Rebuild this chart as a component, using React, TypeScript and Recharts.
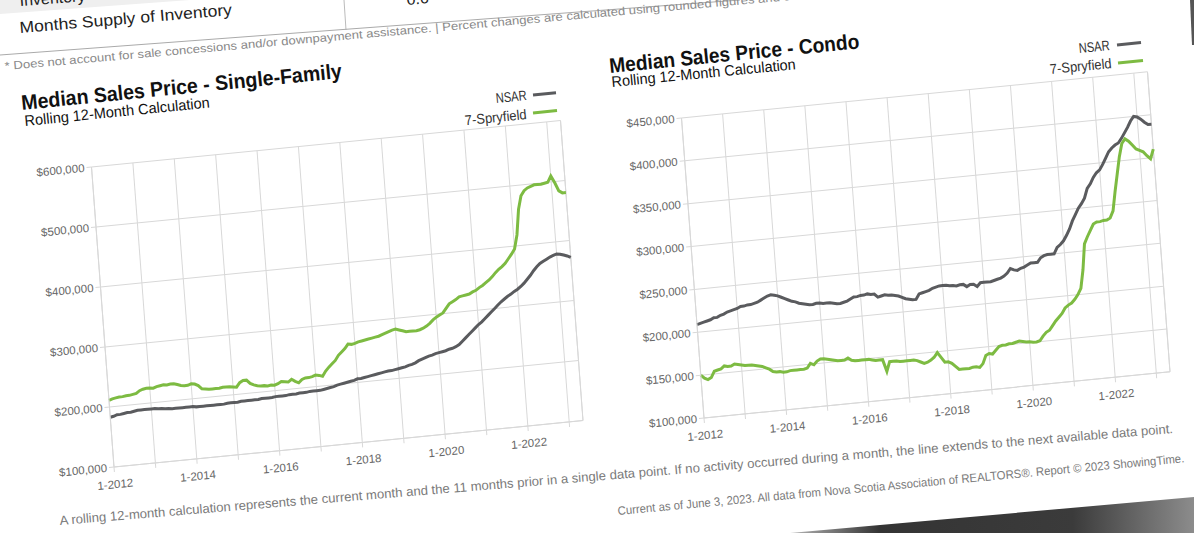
import React from 'react';
import { LineChart, Line, XAxis, YAxis, CartesianGrid, ReferenceLine } from 'recharts';

const FONT = "'Liberation Sans', Arial, Helvetica, sans-serif";

// month index 0 = 1-2012 ... 136 = 5-2023
const yearTicks = [0, 12, 24, 36, 48, 60, 72, 84, 96, 108, 120, 132];
const yearLabels: Record<number, string> = {
  0: '1-2012', 24: '1-2014', 48: '1-2016', 72: '1-2018', 96: '1-2020', 120: '1-2022',
};

const sfTicks = [100000, 200000, 300000, 400000, 500000, 600000];
const condoTicks = [100000, 150000, 200000, 250000, 300000, 350000, 400000, 450000];

// Single-Family, thousands of dollars
const sfNsar = [
  183, 184, 186, 186, 187, 188, 188, 189, 190, 190, 190, 190,
  190, 190, 189, 189, 188, 188, 187, 187, 187, 187, 187, 187,
  187, 186, 186, 186, 186, 186, 186, 186, 186, 186, 187, 187,
  187, 187, 188, 188, 188, 188, 188, 188, 189, 189, 189, 189,
  190, 190, 190, 190, 191, 191, 191, 192, 192, 192, 193, 193,
  193, 193, 194, 195, 196, 197, 199, 200, 201, 202, 203, 204,
  206, 206, 207, 208, 209, 210, 211, 212, 213, 214, 214, 215,
  216, 217, 218, 220, 221, 223, 226, 228, 230, 232, 233, 235,
  236, 237, 238, 240, 241, 243, 246, 251, 256, 261, 266, 271,
  276, 280, 285, 290, 295, 300, 305, 310, 314, 318, 321, 325,
  328, 332, 337, 343, 349, 356, 362, 367, 370, 373, 376, 378,
  380, 379, 377, 375, 372,
];
const sfSpry = [
  211, 213, 214, 215, 215, 216, 216, 217, 218, 222, 224, 225,
  225, 224, 226, 227, 228, 227, 228, 228, 226, 224, 223, 223,
  225, 224, 221, 215, 214, 213, 213, 213, 213, 214, 214, 214,
  213, 212, 219, 222, 222, 216, 213, 211, 210, 210, 209, 210,
  209, 211, 214, 213, 212, 216, 212, 209, 214, 216, 216, 217,
  219, 218, 216, 224, 230, 235, 240, 248, 253, 258, 265, 264,
  265, 267, 268, 269, 270, 271, 272, 273, 275, 277, 279, 281,
  282, 280, 278, 276, 276, 276, 276, 277, 279, 282, 286, 291,
  295, 298, 301, 308, 315, 318, 321, 325, 326, 327, 328, 331,
  333, 337, 340, 344, 348, 353, 359, 364, 368, 373, 380, 387,
  395, 418, 460, 482, 490, 494, 496, 498, 498, 498, 499, 500,
  510, 498, 484, 480, 480,
];

// Condo, thousands of dollars
const condoNsar = [
  209, 210, 211, 212, 213, 215, 215, 217, 218, 220, 221, 222,
  223, 225, 225, 226, 226, 227, 228, 230, 232, 234, 235, 234,
  233, 231, 229, 227, 225, 224, 222, 221, 220, 219, 219, 220,
  220, 219, 219, 219, 218, 217, 217, 218, 219, 221, 223, 223,
  224, 224, 225, 224, 224, 220, 221, 222, 221, 221, 220, 219,
  217, 215, 214, 213, 213, 219, 220, 221, 222, 224, 225, 226,
  226, 226, 225, 225, 224, 225, 225, 222, 224, 224, 221, 225,
  225, 225, 225, 226, 227, 228, 230, 233, 238, 236, 235, 237,
  238, 240, 242, 242, 242, 247, 249, 250, 250, 250, 257, 260,
  264, 270, 277, 286, 293, 300, 305, 311, 322, 327, 334, 339,
  342, 348, 355, 362, 366, 369, 371, 376, 382, 388, 395, 400,
  399, 396, 392, 389, 389,
];
const condoSpry = [
  150, 146, 144, 146, 153, 154, 155, 158, 157, 157, 159, 158,
  157, 156, 156, 156, 155, 154, 153, 151, 149, 146, 145, 145,
  144, 144, 145, 145, 145, 145, 145, 146, 151, 149, 153, 155,
  155, 154, 153, 152, 151, 151, 151, 153, 150, 149, 149, 149,
  149, 149, 148, 147, 147, 147, 133, 144, 144, 144, 143, 143,
  143, 143, 143, 142, 140, 138, 139, 141, 144, 149, 143, 137,
  137, 135, 131, 127, 127, 127, 127, 128, 128, 127, 131, 140,
  142, 141, 145, 149, 150, 150, 151, 151, 152, 153, 152, 151,
  151, 150, 150, 151, 156, 160, 162, 167, 172, 176, 180, 186,
  189, 191, 195, 200, 207, 228, 258, 266, 273, 280, 282, 282,
  283, 283, 285, 293, 315, 335, 355, 370, 375, 372, 367, 362,
  360, 358, 353, 349, 360,
];

const GRAY = '#5a5b5e';
const GREEN = '#7dbb42';
const GRID = '#d8d8d8';
const TILT = 'matrix(1,-0.099,0.075,1,0,0)';

function PriceChart(props: {
  nsar: number[]; spry: number[]; yTicks: number[]; left: number; top: number; plotW: number;
}) {
  const { nsar, spry, yTicks, left, top, plotW } = props;
  const data = nsar.map((v, i) => ({ m: i, nsar: v * 1000, spry: spry[i] * 1000 }));
  const tickStyle = { fontSize: 11.5, fill: '#666', fontFamily: FONT };
  const w = 70 + plotW + 10;
  return (
    <div style={{ position: 'absolute', left, top, width: w, height: 346, transform: TILT, transformOrigin: '70px 310px' }}>
      <LineChart width={w} height={346} data={data} margin={{ top: 10, right: 10, bottom: 0, left: 0 }}>
        <CartesianGrid stroke={GRID} strokeWidth={1} />
        <XAxis
          dataKey="m"
          type="number"
          domain={[0, 136]}
          ticks={yearTicks}
          interval={0}
          tickFormatter={(v: number) => yearLabels[v] ?? ''}
          height={36}
          tick={tickStyle}
          tickSize={5}
          tickMargin={8}
          tickLine={{ stroke: GRID }}
          axisLine={{ stroke: GRID }}
        />
        <YAxis
          type="number"
          domain={[yTicks[0], yTicks[yTicks.length - 1]]}
          ticks={yTicks}
          interval={0}
          tickFormatter={(v: number) => '$' + v.toLocaleString('en-US')}
          width={70}
          tick={tickStyle}
          tickSize={5}
          tickLine={{ stroke: GRID }}
          axisLine={{ stroke: GRID }}
        />
        <ReferenceLine x={136} stroke={GRID} />
        <Line type="linear" dataKey="nsar" stroke={GRAY} strokeWidth={3} dot={false} isAnimationActive={false} />
        <Line type="linear" dataKey="spry" stroke={GREEN} strokeWidth={3} dot={false} isAnimationActive={false} />
      </LineChart>
    </div>
  );
}

function Txt(props: {
  x: number; y: number; slope: number; size: number; weight?: string | number;
  color?: string; len?: number; anchor?: 'start' | 'end' | 'middle'; children: React.ReactNode;
}) {
  const { x, y, slope, size, weight = 'normal', color = '#111', len, anchor = 'start', children } = props;
  const deg = (-Math.atan(slope) * 180) / Math.PI;
  return (
    <text
      x={x}
      y={y}
      transform={`rotate(${deg} ${x} ${y})`}
      fontSize={size}
      fontWeight={weight}
      fill={color}
      fontFamily={FONT}
      textAnchor={anchor}
      {...(len ? { textLength: len, lengthAdjust: 'spacingAndGlyphs' } : {})}
    >
      {children}
    </text>
  );
}

export default function App() {
  return (
    <div style={{ position: 'absolute', left: 0, top: 0, width: 1194, height: 533, overflow: 'hidden', background: '#fff' }}>
      <PriceChart nsar={sfNsar} spry={sfSpry} yTicks={sfTicks} left={44} top={157} plotW={469} />
      <PriceChart nsar={condoNsar} spry={condoSpry} yTicks={condoTicks} left={634} top={108} plotW={466} />
      <svg width={1194} height={533} style={{ position: 'absolute', left: 0, top: 0, pointerEvents: 'none' }}>
        <defs>
          <linearGradient id="shadow" x1="0" y1="0" x2="1" y2="0">
            <stop offset="0%" stopColor="#b5b5b5" />
            <stop offset="22%" stopColor="#343434" />
            <stop offset="70%" stopColor="#3b3b3b" />
            <stop offset="100%" stopColor="#8c8c8c" />
          </linearGradient>
        </defs>
        {/* top table remnants */}
        <polygon points="0,0 190,0 0,14" fill="#efefef" />
        <Txt x={20} y={6} slope={0.075} size={16} color="#222">Inventory</Txt>
        <Txt x={20} y={33} slope={0.085} size={16} color="#222" len={213}>Months Supply of Inventory</Txt>
        <Txt x={407} y={5} slope={0.085} size={16} color="#222">0.6</Txt>
        <line x1={344} y1={0} x2={346} y2={30} stroke="#bbb" strokeWidth={1} />
        <line x1={0} y1={55} x2={740} y2={0} stroke="#aaa" strokeWidth={1} />
        <Txt x={5} y={70} slope={0.089} size={11.5} color="#8a8a8a" len={803}>
          * Does not account for sale concessions and/or downpayment assistance. | Percent changes are calculated using rounded figures and can
        </Txt>
        <Txt x={808} y={-1} slope={0.089} size={11.5} color="#8a8a8a">sometimes look extreme due to small sample size.</Txt>

        {/* left chart header */}
        <Txt x={22} y={110} slope={0.1} size={21} weight="bold" color="#111" len={322}>Median Sales Price - Single-Family</Txt>
        <Txt x={25} y={126} slope={0.1} size={15} color="#111" len={186}>Rolling 12-Month Calculation</Txt>
        <Txt x={527} y={100} slope={0.1} size={14} color="#333" len={31} anchor="end">NSAR</Txt>
        <Txt x={527} y={119} slope={0.1} size={14} color="#333" len={62} anchor="end">7-Spryfield</Txt>
        <line x1={533} y1={95} x2={556} y2={92.7} stroke={GRAY} strokeWidth={3} />
        <line x1={533} y1={113} x2={557} y2={110.6} stroke={GREEN} strokeWidth={3} />

        {/* right chart header */}
        <Txt x={610} y={73} slope={0.099} size={21} weight="bold" color="#111" len={251}>Median Sales Price - Condo</Txt>
        <Txt x={612} y={87} slope={0.097} size={15} color="#111" len={185}>Rolling 12-Month Calculation</Txt>
        <Txt x={1110} y={50} slope={0.097} size={14} color="#333" len={31} anchor="end">NSAR</Txt>
        <Txt x={1112} y={68} slope={0.097} size={14} color="#333" len={62} anchor="end">7-Spryfield</Txt>
        <line x1={1117} y1={45} x2={1141} y2={42.6} stroke={GRAY} strokeWidth={3} />
        <line x1={1118} y1={63} x2={1143} y2={60.5} stroke={GREEN} strokeWidth={3} />

        {/* footer */}
        <Txt x={60} y={525} slope={0.0827} size={13} color="#7a7a7a" len={1117}>
          A rolling 12-month calculation represents the current month and the 11 months prior in a single data point. If no activity occurred during a month, the line extends to the next available data point.
        </Txt>
        <Txt x={618} y={515} slope={0.093} size={12} color="#7a7a7a" len={569}>
          Current as of June 3, 2023. All data from Nova Scotia Association of REALTORS®. Report © 2023 ShowingTime.
        </Txt>

        {/* page edge shadow */}
        <polygon points="790,533 1194,497 1194,533" fill="url(#shadow)" />
        <polygon points="1190,0 1194,0 1194,45 1192,45" fill="#555" />
      </svg>
    </div>
  );
}
